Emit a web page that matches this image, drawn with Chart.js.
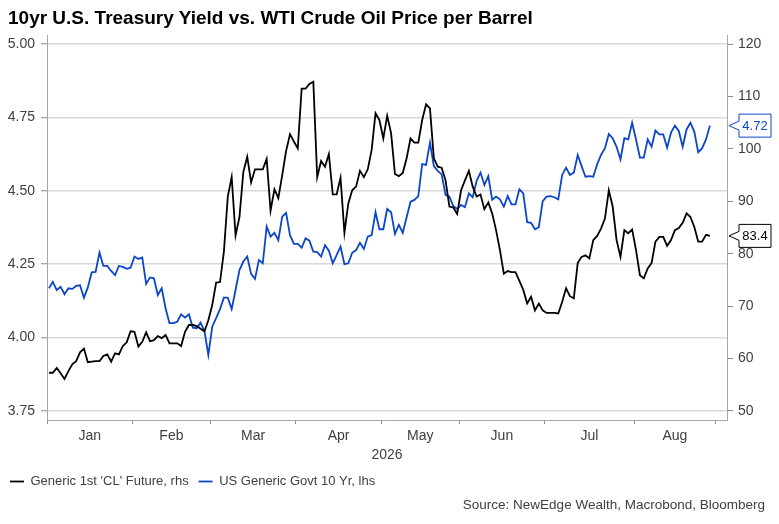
<!DOCTYPE html>
<html lang="en">
<head>
<meta charset="UTF-8">
<title>10yr U.S. Treasury Yield vs. WTI Crude Oil Price per Barrel</title>
<script src="https://cdn.jsdelivr.net/npm/chart.js"></script>
<style>
    * { margin: 0; padding: 0; box-sizing: border-box; }
    body { background: #ffffff; font-family: 'Liberation Sans', Arial, sans-serif; }
    #wrap { position: relative; width: 779px; height: 524px; }
    #chart { position: absolute; left: 0; top: 0; }
    #title {
        position: absolute; left: 8px; top: 7px;
        font-size: 19px; line-height: 22px; font-weight: bold; color: #000000;
        white-space: nowrap;
    }
    #source {
        position: absolute; right: 14px; top: 497px;
        font-size: 13.5px; line-height: 16px; color: #404040;
        white-space: nowrap;
    }
</style>
</head>
<body>
<div id="wrap">
    <canvas id="chart" width="779" height="524"></canvas>
    <div id="title">10yr U.S. Treasury Yield vs. WTI Crude Oil Price per Barrel</div>
    <div id="source">Source: NewEdge Wealth, Macrobond, Bloomberg</div>
</div>

<script>
    // month axis: trading days per month, Jan..Aug 2026
    const months = ['Jan', 'Feb', 'Mar', 'Apr', 'May', 'Jun', 'Jul', 'Aug'];
    const monthDays = [22, 20, 22, 22, 20, 22, 23, 21];
    const yearLabel = '2026';

    const yieldTicks = [3.75, 4.00, 4.25, 4.50, 4.75, 5.00];
    const oilTicks = [50, 60, 70, 80, 90, 100, 110, 120];

    // Generic 1st 'CL' Future, USD per barrel (rhs)
    const oilPrice = [
        57.3, 57.3, 58.2, 57.2, 56.1, 57.6, 58.9, 59.5, 61.2, 61.9,
        59.3, 59.4, 59.5, 59.5, 60.5, 60.8, 59.4, 61.0, 60.8, 62.4,
        63.1, 65.2, 65.1, 62.3, 63.2, 65.0, 63.3, 63.5, 64.3, 63.9,
        64.5, 62.9, 62.9, 62.9, 62.4, 65.1, 66.4, 66.4, 66.2, 65.7,
        65.2, 67.3, 70.2, 74.5, 74.6, 80.4, 90.9, 94.6, 83.5, 87.0,
        95.6, 98.5, 93.6, 96.1, 96.1, 96.1, 98.1, 88.2, 92.3, 90.6,
        95.0, 99.6, 102.8, 101.4, 100.1, 111.5, 111.5, 112.4, 112.8, 94.6,
        97.7, 96.6, 99.0, 91.3, 91.3, 94.5, 84.0, 89.6, 92.1, 92.8,
        95.8, 94.6, 96.1, 99.8, 106.8, 105.5, 102.0, 106.3, 103.0, 95.2,
        94.8, 95.4, 98.2, 102.0, 101.2, 101.2, 105.5, 108.5, 107.7, 98.2,
        96.6, 96.4, 94.0, 89.0, 88.8, 87.6, 92.1, 94.0, 95.8, 92.8,
        90.9, 91.3, 88.5, 89.8, 87.7, 84.5, 80.7, 76.2, 76.7, 76.5,
        76.5, 74.8, 73.1, 70.5, 71.8, 69.2, 70.5, 69.2, 68.7, 68.7,
        68.7, 68.6, 70.8, 73.4, 71.9, 71.5, 78.2, 79.4, 79.7, 79.1,
        82.6, 83.4, 84.8, 86.7, 92.1, 89.0, 82.6, 79.4, 84.5, 83.9,
        84.6, 80.7, 75.9, 75.3, 77.2, 78.2, 82.3, 83.2, 83.2, 81.5,
        82.6, 84.5, 84.9, 85.9, 87.7, 87.0, 85.1, 82.3, 82.3, 83.6,
        83.4
    ];

    // US Generic Govt 10 Yr, % (lhs)
    const yield10y = [
        4.168, 4.190, 4.162, 4.173, 4.148, 4.168, 4.166, 4.176, 4.178, 4.136,
        4.171, 4.222, 4.224, 4.290, 4.244, 4.244, 4.227, 4.213, 4.244, 4.241,
        4.234, 4.238, 4.276, 4.268, 4.273, 4.183, 4.205, 4.202, 4.145, 4.168,
        4.100, 4.049, 4.049, 4.054, 4.079, 4.068, 4.079, 4.034, 4.032, 4.051,
        4.022, 3.941, 4.037, 4.066, 4.097, 4.136, 4.136, 4.097, 4.162, 4.230,
        4.259, 4.276, 4.217, 4.200, 4.264, 4.253, 4.378, 4.344, 4.357, 4.332,
        4.412, 4.425, 4.349, 4.319, 4.319, 4.306, 4.338, 4.330, 4.293, 4.291,
        4.276, 4.315, 4.296, 4.253, 4.281, 4.310, 4.250, 4.253, 4.289, 4.298,
        4.323, 4.302, 4.344, 4.349, 4.427, 4.369, 4.369, 4.438, 4.427, 4.353,
        4.384, 4.357, 4.410, 4.463, 4.469, 4.482, 4.591, 4.588, 4.664, 4.584,
        4.568, 4.556, 4.486, 4.480, 4.448, 4.438, 4.452, 4.444, 4.491, 4.478,
        4.534, 4.562, 4.520, 4.550, 4.469, 4.480, 4.471, 4.446, 4.482, 4.454,
        4.454, 4.505, 4.491, 4.393, 4.391, 4.369, 4.376, 4.465, 4.480, 4.482,
        4.478, 4.471, 4.554, 4.579, 4.554, 4.562, 4.622, 4.584, 4.548, 4.550,
        4.548, 4.590, 4.622, 4.645, 4.693, 4.679, 4.650, 4.607, 4.679, 4.675,
        4.732, 4.675, 4.613, 4.613, 4.675, 4.650, 4.705, 4.692, 4.692, 4.647,
        4.698, 4.722, 4.704, 4.650, 4.709, 4.732, 4.701, 4.631, 4.645, 4.675,
        4.722
    ];

    const oilColor = '#000000';
    const yieldColor = '#0b46c9';
    const textColor = '#404040';
    const axisColor = '#a6a6a6';

    // month boundaries and centres, in trading-day units
    const edges = [-0.5];
    monthDays.forEach(d => edges.push(edges[edges.length - 1] + d));
    const mids = months.map((m, i) => (edges[i] + edges[i + 1]) / 2);
    const xMin = -0.5, xMax = 174.4;

    const toPoints = arr => arr.map((v, i) => ({ x: i, y: v }));

    // value tags at the right end of each line
    const endTags = {
        id: 'endTags',
        afterDraw(chart) {
            const ctx = chart.ctx;
            const right = chart.chartArea.right;
            chart.data.datasets.forEach(ds => {
                const pts = ds.data;
                const last = pts[pts.length - 1].y;
                const y = chart.scales[ds.yAxisID].getPixelForValue(last);
                const tip = right + 2, bx = right + 12, bw = 32, h = 11.5, n = 4.5;
                ctx.save();
                ctx.beginPath();
                ctx.moveTo(tip, y);
                ctx.lineTo(bx, y - n);
                ctx.lineTo(bx, y - h);
                ctx.lineTo(bx + bw, y - h);
                ctx.lineTo(bx + bw, y + h);
                ctx.lineTo(bx, y + h);
                ctx.lineTo(bx, y + n);
                ctx.closePath();
                ctx.fillStyle = '#ffffff';
                ctx.fill();
                ctx.lineWidth = 1;
                ctx.strokeStyle = ds.borderColor;
                ctx.stroke();
                ctx.fillStyle = ds.borderColor;
                ctx.font = '13px "Liberation Sans", Arial, sans-serif';
                ctx.textAlign = 'center';
                ctx.textBaseline = 'middle';
                ctx.fillText(last.toFixed(ds.tagDigits), bx + bw / 2, y + 0.5);
                ctx.restore();
            });
        }
    };

    new Chart(document.getElementById('chart'), {
        type: 'line',
        data: {
            datasets: [
                {
                    label: "Generic 1st 'CL' Future, rhs",
                    data: toPoints(oilPrice),
                    yAxisID: 'yR',
                    xAxisID: 'x',
                    borderColor: oilColor,
                    backgroundColor: oilColor,
                    borderWidth: 1.8,
                    pointRadius: 0,
                    tension: 0,
                    tagDigits: 1
                },
                {
                    label: 'US Generic Govt 10 Yr, lhs',
                    data: toPoints(yield10y),
                    yAxisID: 'yL',
                    xAxisID: 'x',
                    borderColor: yieldColor,
                    backgroundColor: yieldColor,
                    borderWidth: 1.8,
                    pointRadius: 0,
                    tension: 0,
                    tagDigits: 2
                }
            ]
        },
        options: {
            responsive: false,
            animation: false,
            layout: { padding: { top: 35, left: 0, right: 0, bottom: 26 } },
            scales: {
                x: {
                    type: 'linear', position: 'bottom', min: xMin, max: xMax, weight: 0,
                    afterBuildTicks: s => { s.ticks = edges.map(v => ({ value: v })); },
                    afterFit: s => { s.height = 4; },
                    ticks: { display: false },
                    grid: { drawOnChartArea: false, drawTicks: true, tickLength: 4, tickColor: '#8c8c8c', tickWidth: 1 },
                    border: { display: true, color: axisColor, width: 1 }
                },
                xm: {
                    type: 'linear', position: 'bottom', min: xMin, max: xMax, weight: 1,
                    afterBuildTicks: s => { s.ticks = mids.map(v => ({ value: v })); },
                    afterFit: s => { s.height = 41; },
                    ticks: {
                        autoSkip: false, maxRotation: 0, padding: 4, color: textColor,
                        font: { size: 14, family: "'Liberation Sans', Arial, sans-serif" },
                        callback: (v, i) => months[i]
                    },
                    grid: { display: false, drawTicks: false },
                    border: { display: false },
                    title: {
                        display: true, text: yearLabel, color: textColor,
                        font: { size: 14, family: "'Liberation Sans', Arial, sans-serif" },
                        padding: { top: 0, bottom: 1 }
                    }
                },
                yL: {
                    type: 'linear', position: 'left', min: 3.7193, max: 5.0307,
                    afterBuildTicks: s => { s.ticks = yieldTicks.map(v => ({ value: v })); },
                    afterFit: s => { s.width = 47; },
                    ticks: {
                        padding: 6, color: textColor,
                        font: { size: 14, family: "'Liberation Sans', Arial, sans-serif" },
                        callback: v => v.toFixed(2)
                    },
                    grid: { color: '#d9d9d9', lineWidth: 1.5, tickColor: '#8c8c8c', tickWidth: 1, tickLength: 6 },
                    border: { color: axisColor, width: 1 }
                },
                yR: {
                    type: 'linear', position: 'right', min: 48.283, max: 121.717,
                    afterBuildTicks: s => { s.ticks = oilTicks.map(v => ({ value: v })); },
                    afterFit: s => { s.width = 52; },
                    ticks: {
                        padding: 5, color: textColor,
                        font: { size: 14, family: "'Liberation Sans', Arial, sans-serif" }
                    },
                    grid: { drawOnChartArea: false, tickColor: '#8c8c8c', tickWidth: 1, tickLength: 6 },
                    border: { color: axisColor, width: 1 }
                }
            },
            plugins: {
                title: { display: false },
                tooltip: { enabled: false },
                legend: {
                    position: 'bottom',
                    align: 'start',
                    labels: {
                        usePointStyle: true,
                        pointStyle: 'line',
                        pointStyleWidth: 14,
                        boxHeight: 13,
                        padding: 10,
                        color: textColor,
                        font: { size: 13, family: "'Liberation Sans', Arial, sans-serif" }
                    }
                }
            }
        },
        plugins: [endTags]
    });
</script>
</body>
</html>
